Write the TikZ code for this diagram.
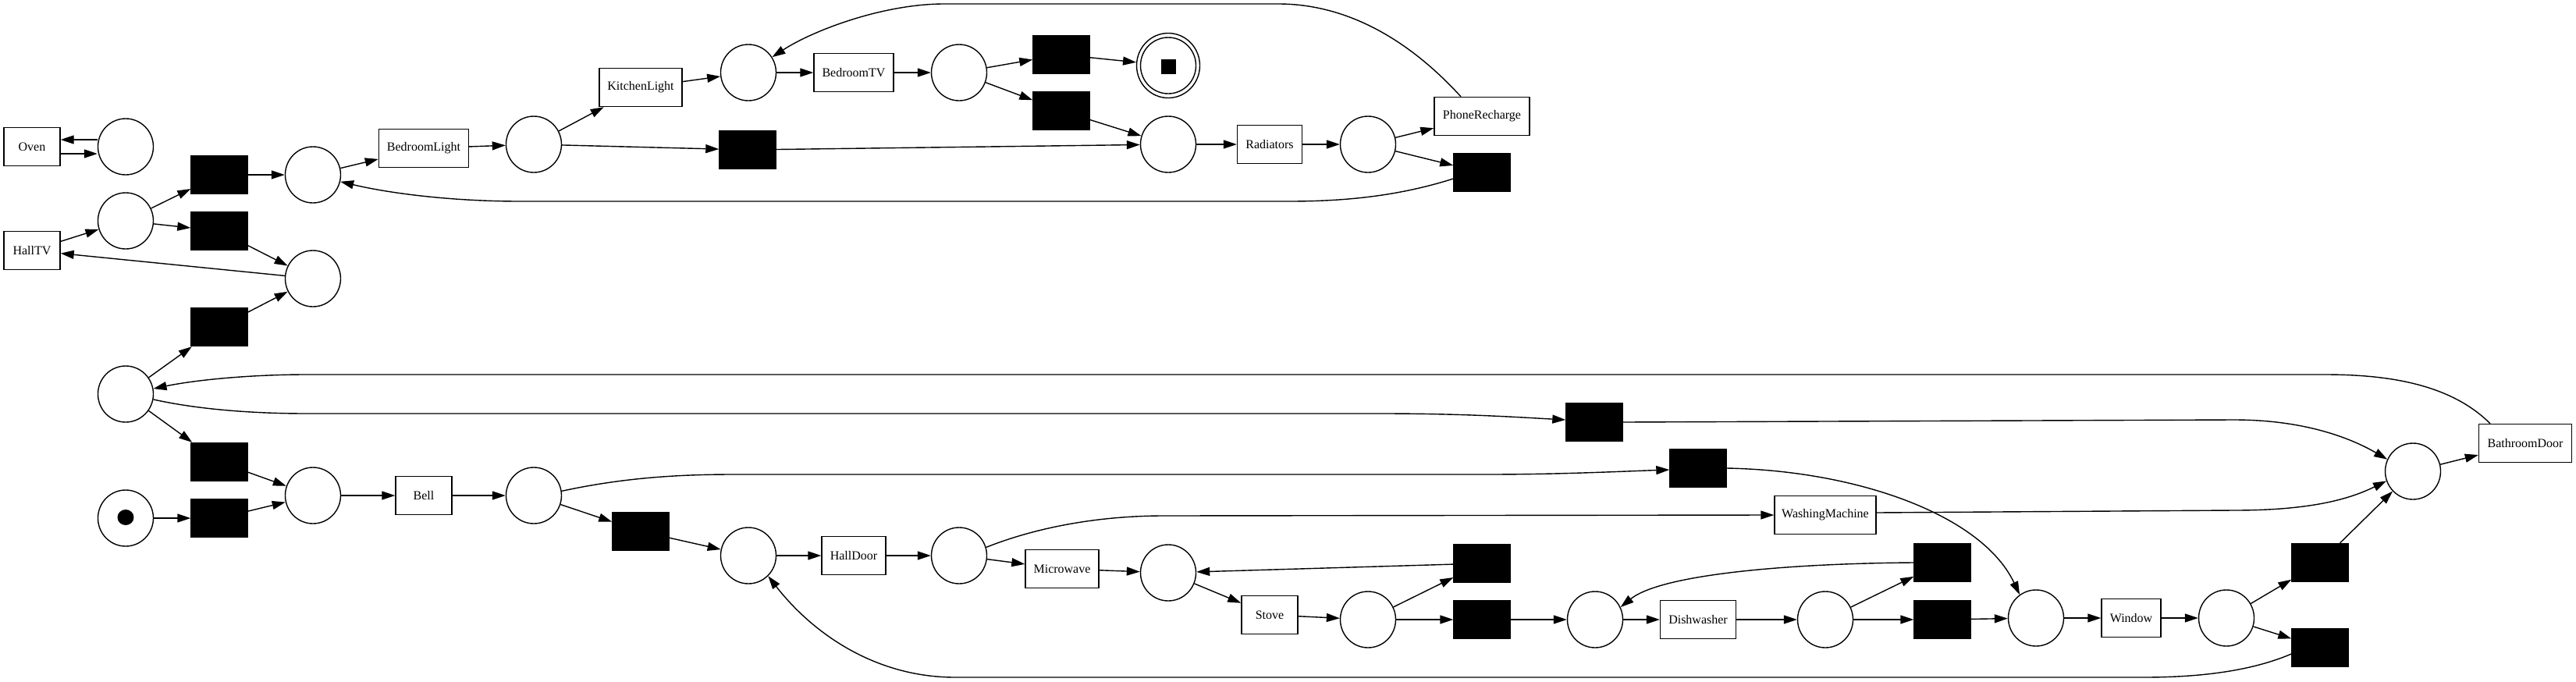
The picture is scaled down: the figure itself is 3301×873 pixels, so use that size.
\documentclass[tikz,border=0pt]{standalone}
\usepackage{fontspec}
\setmainfont{Liberation Serif}
\usetikzlibrary{shapes.geometric,arrows.meta}
\begin{document}
\begin{tikzpicture}[x=1pt,y=-1pt,
  every node/.style={font=\fontsize{16}{19}\selectfont},
  place/.style={ellipse,draw,line width=1.4pt,minimum width=71pt,minimum height=72pt,inner sep=0pt},
  trans/.style={rectangle,draw,line width=1.4pt,minimum height=49pt,minimum width=#1,inner sep=0pt},
  silent/.style={rectangle,fill=black,draw=black,line width=1.4pt,minimum width=72pt,minimum height=49pt,inner sep=0pt},
  arc/.style={line width=1.4pt,-{Triangle[length=17pt,width=11pt]}},
  plain/.style={line width=1.4pt}
]
\fill[white] (0,0) rectangle (3301,873);
\useasboundingbox (0,0) rectangle (3301,873);

% places
\node[place] (pOven) at (161,188) {};
\node[place] (pHall) at (161,283) {};
\node[place] (pB) at (401,224) {};
\node[place] (pHT) at (401,357) {};
\node[place] (pBL) at (684,185) {};
\node[place] (pKL) at (959,93) {};
\node[place] (pTV) at (1229,93) {};
\node[place] (pRin) at (1497,185) {};
\node[place] (pRout) at (1753,185) {};
\node[place] (pFinIn) at (1497,84) {};
\node[ellipse,draw,line width=1.4pt,minimum width=81pt,minimum height=83pt,inner sep=0pt] (pFin) at (1497,84) {};
\node[fill=black,minimum size=19pt,inner sep=0pt] (finTok) at (1497,85) {};
\node[place] (pBig) at (161,505) {};
\node[place] (pStart) at (161,664) {};
\node[ellipse,fill=black,minimum width=21pt,minimum height=20pt,inner sep=0pt] (startTok) at (161,663) {};
\node[place] (pBellIn) at (401,635) {};
\node[place] (pBellOut) at (684,635) {};
\node[place] (pHD) at (959,712) {};
\node[place] (pHDout) at (1229,712) {};
\node[place] (pMW) at (1497,734) {};
\node[place] (pSt) at (1753,794) {};
\node[place] (pDWin) at (2044,794) {};
\node[place] (pDWout) at (2339,794) {};
\node[place] (pWin) at (2609,792) {};
\node[place] (pWout) at (2853,792) {};
\node[place] (pBath) at (3092,604) {};

% labelled transitions
\node[trans=72pt] (Oven) at (41,188) {Oven};
\node[trans=72pt] (HallTV) at (41,321) {HallTV};
\node[trans=115pt] (BedroomLight) at (543,190) {BedroomLight};
\node[trans=106pt] (KitchenLight) at (821,112) {KitchenLight};
\node[trans=102pt] (BedroomTV) at (1094,93) {BedroomTV};
\node[trans=83pt] (Radiators) at (1627,185) {Radiators};
\node[trans=122pt] (PhoneRecharge) at (1899,149) {PhoneRecharge};
\node[trans=72pt] (Bell) at (543,635) {Bell};
\node[trans=82pt] (HallDoor) at (1094,712) {HallDoor};
\node[trans=94pt] (Microwave) at (1361,729) {Microwave};
\node[trans=72pt] (Stove) at (1627,788) {Stove};
\node[trans=130pt] (WashingMachine) at (2339,660) {WashingMachine};
\node[trans=97pt] (Dishwasher) at (2176,794) {Dishwasher};
\node[trans=76pt] (Window) at (2731,792) {Window};
\node[trans=119pt] (BathroomDoor) at (3236,568) {BathroomDoor};

% silent transitions
\node[silent] (t1) at (281,224) {};
\node[silent] (t2) at (281,296) {};
\node[silent] (t3) at (281,419) {};
\node[silent] (t4) at (281,592) {};
\node[silent] (t5) at (281,664) {};
\node[silent] (t6) at (958,192) {};
\node[silent] (t7) at (1360,70) {};
\node[silent] (t8) at (1360,142) {};
\node[silent] (t9) at (1899,221) {};
\node[silent] (t10) at (821,681) {};
\node[silent] (t11) at (2043,541) {};
\node[silent] (t12) at (2176,600) {};
\node[silent] (t13) at (1899,722) {};
\node[silent] (t14) at (1899,794) {};
\node[silent] (t15) at (2489,721) {};
\node[silent] (t16) at (2489,794) {};
\node[silent] (t17) at (2973,721) {};
\node[silent] (t18) at (2973,830) {};

% top part
\draw[arc] ([yshift=9pt]pOven.west) -- ([yshift=9pt]Oven.east);
\draw[arc] ([yshift=-9pt]Oven.east) -- ([yshift=-9pt]pOven.west);
\draw[arc] (HallTV) -- (pHall);
\draw[arc] (pHall) -- (t1);
\draw[arc] (pHall) -- (t2);
\draw[arc] (t1) -- (pB);
\draw[arc] (t2) -- (pHT);
\draw[arc] (t3) -- (pHT);
\draw[arc] (pHT) -- (HallTV);
\draw[arc] (pB) -- (BedroomLight);
\draw[arc] (BedroomLight) -- (pBL);
\draw[arc] (pBL) -- (KitchenLight);
\draw[arc] (KitchenLight) -- (pKL);
\draw[arc] (pKL) -- (BedroomTV);
\draw[arc] (BedroomTV) -- (pTV);
\draw[arc] (pTV) -- (t7);
\draw[arc] (t7) -- (pFin);
\draw[arc] (pTV) -- (t8);
\draw[arc] (t8) -- (pRin);
\draw[arc] (pBL) -- (t6);
\draw[arc] (t6) -- (pRin);
\draw[arc] (pRin) -- (Radiators);
\draw[arc] (Radiators) -- (pRout);
\draw[arc] (pRout) -- (PhoneRecharge);
\draw[arc] (pRout) -- (t9);
\draw[arc] ([xshift=-27pt]PhoneRecharge.north) .. controls (1800,45) and (1720,5) .. (1638,5)
  -- (1210,5) .. controls (1130,5) and (1040,40) .. (pKL.33);
\draw[arc] ([yshift=-8pt]t9.west) .. controls (1790,252) and (1720,258) .. (1652,258)
  -- (666,258) .. controls (580,258) and (500,248) .. (pB.-14);

% bottom part
\draw[arc] (pBig) -- (t3);
\draw[arc] (pBig) -- (t4);
\draw[arc] (pStart) -- (t5);
\draw[arc] (t4) -- (pBellIn);
\draw[arc] (t5) -- (pBellIn);
\draw[arc] (pBellIn) -- (Bell);
\draw[arc] (Bell) -- (pBellOut);
\draw[arc] (pBellOut) -- (t10);
\draw[arc] (t10) -- (pHD);
\draw[arc] (pHD) -- (HallDoor);
\draw[arc] (HallDoor) -- (pHDout);
\draw[arc] (pHDout) -- (Microwave);
\draw[arc] (Microwave) -- (pMW);
\draw[arc] (pMW) -- (Stove);
\draw[arc] (Stove) -- (pSt);
\draw[arc] (pSt) -- (t13);
\draw[arc] (t13) -- (pMW);
\draw[arc] (pSt) -- (t14);
\draw[arc] (t14) -- (pDWin);
\draw[arc] (pDWin) -- (Dishwasher);
\draw[arc] (Dishwasher) -- (pDWout);
\draw[arc] (pDWout) -- (t15);
\draw[arc] (pDWout) -- (t16);
\draw[arc] (t16) -- (pWin);
\draw[arc] (pWin) -- (Window);
\draw[arc] (Window) -- (pWout);
\draw[arc] (pWout) -- (t17);
\draw[arc] (pWout) -- (t18);
\draw[arc] (t17) -- (pBath);
\draw[arc] (pBath) -- (BathroomDoor);

\draw[arc] ([xshift=-45pt]BathroomDoor.north) .. controls (3140,492) and (3060,480) .. (2979,480)
  -- (393,480) .. controls (320,480) and (250,487) .. (pBig.11);
\draw[arc] (pBig.-11) .. controls (250,524) and (320,530) .. (393,530)
  -- (1770,530) .. controls (1880,530) and (1950,535) .. ([yshift=3pt]t11.west);
\draw[arc] (t11.east) -- (2863,538) .. controls (2950,538) and (3010,560) .. (pBath.155);
\draw[arc] (pBellOut.9) .. controls (800,612) and (870,608) .. (940,608)
  -- (1905,608) .. controls (2000,608) and (2080,604) .. ([yshift=-2pt]t12.west);
\draw[arc] (t12.east) .. controls (2380,603) and (2540,660) .. (pWin.125);
\draw[arc] (pHDout.17) .. controls (1330,675) and (1410,661) .. (1491,661) -- (WashingMachine.west);
\draw[arc] ([yshift=3pt]WashingMachine.east) -- (2863,654) .. controls (2960,654) and (3010,640) .. (pBath.200);
\draw[arc] (t15.west) .. controls (2300,722) and (2130,735) .. (pDWin.26);
\draw[arc] ([yshift=-8pt]t18.west) .. controls (2880,862) and (2810,868) .. (2747,868)
  -- (1224,868) .. controls (1120,868) and (1040,810) .. (pHD.-46);
\end{tikzpicture}
\end{document}
